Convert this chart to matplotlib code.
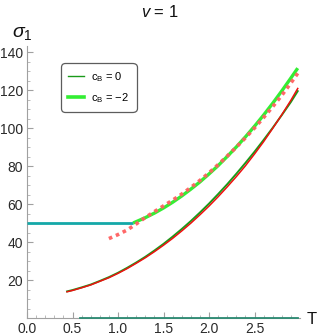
import matplotlib
matplotlib.use("Agg")
import matplotlib.pyplot as plt
from matplotlib.lines import Line2D

plt.rcParams['font.family'] = ['Liberation Sans', 'DejaVu Sans']
plt.rcParams['mathtext.fontset'] = 'custom'
plt.rcParams['mathtext.rm'] = 'Liberation Sans'
plt.rcParams['mathtext.it'] = 'Liberation Sans:italic'

# ---- data ----
T_flat = [0.0, 1.166]
sigma_flat = [50.0, 50.0]

T_cb2 = [1.166, 1.2, 1.3, 1.4, 1.5, 1.6, 1.7, 1.8, 1.9, 2.0, 2.1, 2.2, 2.3, 2.4, 2.5,
         2.6, 2.7, 2.8, 2.9, 2.975]
sigma_cb2 = [50.0, 50.7, 52.8, 55.2, 57.9, 60.9, 64.2, 67.8, 71.6, 75.8, 80.2, 85.0, 90.0,
             95.3, 100.9, 106.8, 113.0, 119.5, 126.3, 131.5]

T_approx = [0.90, 1.0, 1.1, 1.2, 1.3, 1.4, 1.5, 1.6, 1.7, 1.8, 1.9, 2.0, 2.1, 2.2, 2.3,
            2.4, 2.5, 2.6, 2.7, 2.8, 2.9, 2.975]
sigma_approx = [41.8, 43.9, 46.3, 49.5, 52.9, 56.0, 59.0, 62.0, 65.2, 68.7, 72.4, 76.4, 80.7,
                85.2, 89.9, 94.8, 100.0, 105.5, 111.2, 117.2, 123.7, 128.8]

T_low = [0.44, 0.5, 0.6, 0.7, 0.8, 0.9, 1.0, 1.1, 1.2, 1.3, 1.4, 1.5, 1.6, 1.7, 1.8, 1.9,
         2.0, 2.1, 2.2, 2.3, 2.4, 2.5, 2.6, 2.7, 2.8, 2.9, 2.975]
sigma_cb0 = [14.0, 14.7, 16.1, 17.6, 19.5, 21.5, 23.8, 26.4, 29.2, 32.2, 35.5, 39.0, 42.8,
             46.8, 51.0, 55.5, 60.2, 65.2, 70.4, 75.9, 81.6, 87.5, 93.7, 100.1, 106.8,
             113.7, 119.4]
sigma_red = [13.8, 14.5, 15.9, 17.4, 19.3, 21.2, 23.5, 26.0, 28.8, 31.7, 34.9, 38.3, 41.9,
             45.8, 49.9, 54.3, 58.9, 63.8, 69.0, 74.4, 80.1, 86.3, 92.8, 99.8, 107.0,
             114.6, 120.8]

T_zero = [0.58, 2.98]
sigma_zero = [0.0, 0.0]

x_ticks = [0.0, 0.5, 1.0, 1.5, 2.0, 2.5]
y_ticks = [20, 40, 60, 80, 100, 120, 140]

# ---- figure ----
fig = plt.figure(figsize=(3.17, 3.36), dpi=100)
ax = fig.add_axes([27/317, 1-318/336, 273/317, (318-46.3)/336])
ax.set_xlim(0, 3.0)
ax.set_ylim(0, 143)

ax.plot(T_zero, sigma_zero, color='#2a8a72', lw=1.3, clip_on=False, zorder=6)
ax.plot(T_flat, sigma_flat, color='#14a8a8', lw=2.0, solid_capstyle='butt', zorder=3)
ax.plot(T_cb2, sigma_cb2, color='#33ee33', lw=2.4, solid_capstyle='butt', zorder=3)
ax.plot(T_approx, sigma_approx, color='#ff6060', lw=2.6, linestyle=(0, (1, 1.1)),
        dash_capstyle='butt', alpha=0.95, zorder=4)
ax.plot(T_low, sigma_cb0, color='#1a9a1a', lw=1.4, zorder=3)
ax.plot(T_low, sigma_red, color='#ee1010', lw=1.1, zorder=4)

for s in ['top', 'right']:
    ax.spines[s].set_visible(False)
for s in ['left', 'bottom']:
    ax.spines[s].set_color('#a0a0a0')
    ax.spines[s].set_linewidth(0.8)

ax.set_xticks(x_ticks)
ax.set_xticklabels([f"{v:.1f}" for v in x_ticks])
ax.set_yticks(y_ticks)
ax.set_xticks([i/10 for i in range(0, 30)], minor=True)
ax.set_yticks([i*5 for i in range(1, 29)], minor=True)
ax.tick_params(which='major', direction='in', length=4, width=0.8, color='#a0a0a0',
               labelsize=10, labelcolor='#2a2a2a')
ax.tick_params(which='minor', direction='in', length=2.3, width=0.6, color='#b0b0b0')
ax.tick_params(axis='x', pad=3)
ax.tick_params(axis='y', pad=3)

fig.text(160/317, 1-12/336, r"$v$ = 1", ha='center', va='center', fontsize=12, color='#111111')
fig.text(22/317, 1-33/336, r"$\sigma_1$", ha='center', va='center', fontsize=14, color='#111111')
fig.text(312/317, 1-319/336, "T", ha='center', va='center', fontsize=12, color='#111111')

handles = [Line2D([], [], color='#1a9a1a', lw=1.0),
           Line2D([], [], color='#33ee33', lw=2.6)]
labels = ["c$_\\mathregular{B}$ = 0", "c$_\\mathregular{B}$ = \u22122"]
leg = fig.legend(handles, labels, loc='upper left', bbox_to_anchor=(61/317, 1-63/336),
                 fontsize=8, frameon=True, fancybox=True, handlelength=1.45,
                 handletextpad=0.63, borderpad=0.65, labelspacing=0.65, borderaxespad=0)
leg.get_frame().set_edgecolor('#333333')
leg.get_frame().set_linewidth(0.9)
leg.get_frame().set_boxstyle('round', pad=0, rounding_size=0.4)

fig.savefig('out.png', dpi=100)
